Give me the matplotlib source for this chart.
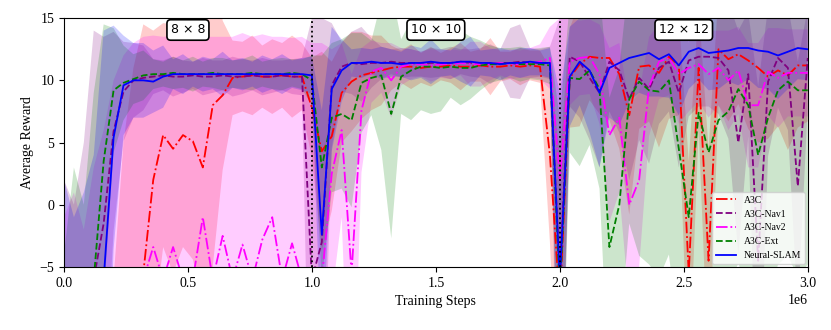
import numpy as np
import matplotlib
matplotlib.use("Agg")
import matplotlib.pyplot as plt

plt.rcParams['font.family'] = 'serif'
plt.rcParams['font.serif'] = ['Liberation Serif', 'DejaVu Serif']

# training steps (one point every 40k)
steps = np.arange(0, 3_000_001, 40_000)

# mean rewards (values below -5 are off the axis)
a3c = [-8, -8, -8, -8, -8, -8, -8, -8,
       -5.5, 2.0, 5.6, 4.5, 5.6, 5.1, 3.0, 8.0, 8.8, 10.2,
       10.3, 10.4, 10.3, 10.3, 10.4, 10.3, 10.3,
       7.8, 4.3, 5.5, 9.0, 9.9, 10.4, 10.6, 10.8, 11.0,
       11.1, 11.1, 11.0, 11.1, 11.1, 11.2, 11.1, 11.1, 11.2, 11.1, 11.1, 11.2, 11.1, 11.2, 11.1,
       4.0, -8,
       10.2, 11.3, 11.9, 11.8, 11.8, 10.5, 7.2, 11.1, 11.2, 10.6, 11.9, 11.2, -5.5, 11.0, -4.5,
       12.5, 11.7, 12.1, 11.6, 11.0, 10.3, 10.8, 10.4, 11.2, 11.2]
a3c_std = [2, 2, 2, 2, 2, 2, 13, 19,
           20, 12, 9, 10, 9, 9.5, 11, 13, 6, 3,
           2.8, 3.2, 2.5, 3.0, 2.6, 3.3, 2.7,
           4, 8, 6, 4, 4, 3.5, 3.0, 2.8, 1.8,
           1.3, 1.8, 1.2, 1.6, 1.1, 1.4, 1.9, 1.2, 1.3, 2.3, 1.2, 1.1, 1.5, 1.2, 1.3,
           7, 12,
           4, 5, 3.5, 4.5, 5, 6, 8, 5, 4.5, 6, 5, 4, 9, 5, 9,
           4.5, 5, 4, 5.5, 6, 5, 4.5, 6, 5, 4.5]

nav1 = [-8, -8, -8, -6, -1.5, 5.9, 9.1, 10.0, 10.2,
        10.3, 10.4, 10.3, 10.3, 10.4, 10.3, 10.3, 10.4, 10.3, 10.3, 10.4, 10.3, 10.3, 10.4, 10.3, 10.3,
        -6, -3, 9.6, 11.1,
        11.4, 11.3, 11.4, 11.4, 11.5, 11.4, 11.4, 11.3, 11.4, 11.4, 11.4, 11.5, 11.4, 11.4, 11.3,
        11.4, 11.4, 11.5, 11.4, 11.4, 11.4,
        -6,
        11.9, 11.5, 10.2, 9.0, 11.5, 10.8, 8.5, 10.2, 9.3, 11.0, 11.5, 9.0, 11.6, 11.9, 11.9,
        11.8, 10.8, 5.0, 10.5, -4.5, 9.9, 11.8, 11.0, 1.5, 11.8]
nav1_std = [10, 8, 13, 20, 15, 8, 4, 3, 2.6,
            1.4, 1.2, 1.6, 1.3, 1.1, 1.5, 1.3, 1.2, 1.6, 1.4, 1.2, 1.5, 1.3, 1.2, 1.4, 1.5,
            21, 18, 5, 2,
            2.5, 3.0, 2.0, 1.3, 1.0, 1.2, 1.1, 1.0, 1.2, 1.1, 1.3, 1.0, 1.1, 1.2, 1.6,
            1.1, 2.8, 3.0, 1.2, 1.1, 1.3,
            21,
            4, 4.5, 5, 6, 4, 5, 6.5, 5, 6, 4.5, 4, 6, 4.5, 4, 4,
            4.5, 5.5, 9, 5, 14, 6, 4, 5, 10, 4]

nav2 = [-8, -8, -8, -8, -8, -8, -8, -8,
        -6, -3.4, -6, -3.4, -6, -6, -1.0, -6, -2.5, -6, -3.2, -6, -2.8, -1.0, -6, -3.1, -6,
        -7, -6, 2.5, 6.0, -5.5, 7.6, 10.7, 11.0, 10.0, 11.1,
        11.3, 11.3, 11.2, 11.3, 11.3, 11.4, 11.3, 11.3, 11.3, 11.4, 11.3, 11.3, 11.4, 11.5,
        11.8, 2.0,
        11.5, 11.8, 11.9, 10.5, 5.6, 7.0, 0.0, 2.0, 9.5, 11.5, 11.8, 10.5, 11.0, 11.3, 10.5,
        11.0, 10.0, 10.8, 8.0, 8.0, 10.7, 10.2, 10.6, 10.6, 10.6]
nav2_std = [7, 9, 6, 11, 14, 18, 20, 21,
            19.5, 17, 19.5, 17, 19.5, 19.5, 14.5, 19.5, 16, 19.5, 17, 19.5, 16.5, 14.5, 19.5, 16.5, 19.5,
            20, 19, 10, 7, 16, 5, 2.5, 2, 3, 1.5,
            1.2, 1.0, 1.3, 1.1, 1.2, 1.0, 1.8, 1.8, 1.3, 1.0, 1.2, 1.1, 1.2, 1.4,
            2.5, 13,
            3.5, 3, 3, 4, 7, 6, 8, 7, 4, 3, 3, 4, 3.5, 3, 3.5,
            3, 4, 3.5, 5, 5, 3.5, 4, 3.5, 3.5, 3.5]

ext = [-8, -8, -8, -6, 3.5, 9.2, 9.8, 10.1, 10.4,
       10.5, 10.5, 10.6, 10.5, 10.5, 10.5, 10.6, 10.5, 10.5, 10.5, 10.6, 10.5, 10.5, 10.5, 10.6, 10.5,
       10.0, 3.0, 7.0, 7.3, 6.8, 9.8, 10.2, 10.4, 7.3, 10.3, 10.8, 11.1, 11.1, 11.0, 11.1, 11.0,
       11.0, 11.2,
       11.3, 11.3, 11.4, 11.3, 11.3, 11.3, 11.2,
       -7,
       10.2, 10.1, 10.8, 9.3, -3.4, 0.0, 8.5, 9.9, 9.2, 9.1, 10.0, 4.5, -1.0, 7.4, 4.2,
       6.8, 7.5, 9.3, 8.0, 4.0, 7.0, 9.2, 9.9, 9.2, 9.2]
ext_std = [4, 11, 8, 15, 11, 5, 3, 2, 2,
           1.2, 1.0, 1.3, 1.1, 1.4, 1.0, 1.2, 1.3, 1.1, 1.2, 1.4, 1.0, 1.2, 1.3, 1.1, 1.2,
           2, 9, 6, 6, 7, 4, 3, 6, 10, 3, 4, 3.5, 3.8, 3.5, 2.5, 3,
           2.5, 2,
           1.5, 1.3, 1.2, 1.4, 1.2, 1.3, 1.5,
           14,
           6, 7, 6, 8, 12, 11, 10, 14, 14, 15, 14, 15, 14, 14, 15,
           14, 14, 14, 15, 16, 15, 14, 14, 15, 14]

slam = [-8, -8, -8, -8, -6, 5.4, 9.6, 10.0, 10.0, 9.9, 10.3,
        10.5, 10.5, 10.5, 10.5, 10.5, 10.5, 10.5, 10.5, 10.5, 10.5, 10.5, 10.5, 10.5, 10.5,
        10.4, -2.4, 9.3, 10.8,
        11.4, 11.4, 11.5, 11.4, 11.4, 11.3, 11.4, 11.4, 11.5, 11.4, 11.4, 11.5, 11.5, 11.4,
        11.4, 11.3, 11.4, 11.4, 11.5, 11.4, 11.4,
        -6,
        10.3, 11.5, 10.8, 9.0, 11.0, 11.4, 11.8, 12.0, 12.2, 11.7, 12.1, 11.2, 12.3, 12.6, 12.2,
        12.3, 12.4, 12.6, 12.6, 12.4, 12.3, 12.0, 12.3, 12.6, 12.5]
slam_std = [10, 7, 9, 12, 20, 9, 4, 3, 3, 2.5, 2.5,
            1.2, 1.6, 1.0, 1.4, 1.2, 1.8, 1.1, 1.3, 1.0, 1.5, 1.2, 1.6, 1.1, 1.3,
            1.5, 10, 5, 2.5,
            1.1, 1.2, 1.0, 1.3, 1.1, 1.0, 1.4, 1.2, 1.8, 1.1, 1.0, 1.6, 2.0, 1.0,
            1.1, 1.3, 1.0, 1.2, 1.1, 1.0, 1.2,
            15,
            4, 3.5, 5, 6, 4, 5, 3.5, 3, 3.5, 3, 3.5, 4, 3, 2.5, 3,
            3, 2.5, 3, 2.5, 3, 3, 3.5, 3, 2.5, 2.5]

names = ['A3C', 'A3C-Nav1', 'A3C-Nav2', 'A3C-Ext', 'Neural-SLAM']
means = [a3c, nav1, nav2, ext, slam]
stds = [a3c_std, nav1_std, nav2_std, ext_std, slam_std]
colors = ['red', 'purple', 'magenta', 'green', 'blue']
styles = ['-.', '--', '-.', '--', '-']

stages = [0.5e6, 1.5e6, 2.5e6]
stage_labels = ['8 × 8', '10 × 10', '12 × 12']
stage_edges = [1.0e6, 2.0e6]

fig = plt.figure(figsize=(8.31, 3.30), dpi=100)
ax = fig.add_axes([0.077, 0.191, 0.895, 0.754])

for m, s, c in zip(means, stds, colors):
    m = np.array(m, dtype=float)
    s = np.array(s, dtype=float)
    ax.fill_between(steps, m - s, m + s, color=c, alpha=0.2, lw=0, zorder=1)

for m, c, ls, name in zip(means, colors, styles, names):
    ax.plot(steps, m, color=c, ls=ls, lw=1.3, label=name, zorder=3)

for xe in stage_edges:
    ax.axvline(xe, color='black', ls=':', lw=1.3, zorder=4)

for xs, lab in zip(stages, stage_labels):
    ax.text(xs, 14.05, lab, ha='center', va='center', fontsize=9, family='DejaVu Sans',
            bbox=dict(boxstyle='round,pad=0.3', fc='white', ec='black', lw=1.2), zorder=5)

ax.set_xlim(0, 3.0e6)
ax.set_ylim(-5, 15)
ax.set_yticks([-5, 0, 5, 10, 15])
ax.set_xlabel('Training Steps', fontsize=10)
ax.set_ylabel('Average Reward', fontsize=10)
ax.tick_params(labelsize=10)
ax.legend(loc='lower right', fontsize=7, borderaxespad=0.3)

fig.savefig('out.png', dpi=100)
